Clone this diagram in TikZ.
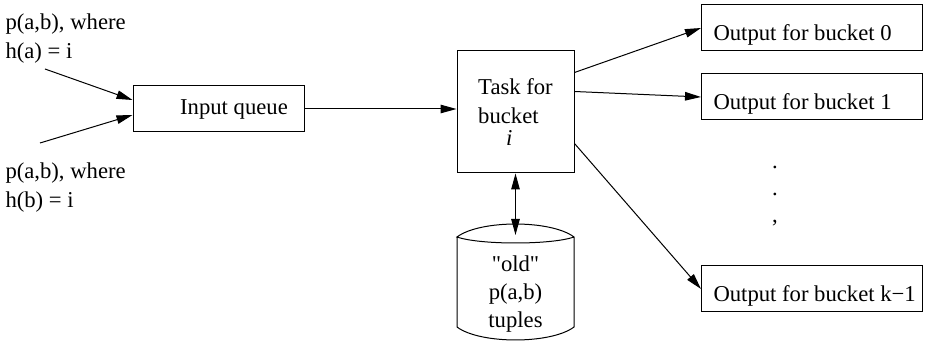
\documentclass[tikz,border=0pt]{standalone}
\usepackage{fontspec}
\setmainfont{Liberation Serif}
\newfontfamily\figserif{Liberation Serif}
\usetikzlibrary{arrows.meta,calc}
\begin{document}
\begin{tikzpicture}[x=0.75pt,y=-0.75pt,
  font=\figserif\fontsize{17}{21.75}\selectfont,
  line width=0.75pt,
  box/.style={draw,rectangle,inner sep=0pt},
  arr/.style={-{Triangle[length=12pt,width=6.4pt]}},
  darr/.style={{Triangle[length=12pt,width=6.4pt]}-{Triangle[length=12pt,width=6.4pt]}},
  lab/.style={align=left,inner sep=0pt,anchor=north west},
  outbox/.style={box,anchor=west,minimum width=165.75pt,minimum height=34.5pt,inner xsep=9pt,text height=19.5pt,text depth=0pt}]
\useasboundingbox (0,0) rectangle (926,342);
% labels
\node[lab] (la) at (5,13) {p(a,b), where\\h(a) = i};
\node[lab] (lb) at (5,162) {p(a,b), where\\h(b) = i};
\coordinate (a1) at (45,69);
\coordinate (a2) at (40,143);
% input queue
\node[box,minimum width=128.25pt,minimum height=34.5pt,text height=12pt,text depth=3pt] (iq) at (218.5,109) {\hspace*{23.25pt}Input queue};
% task
\node[box,minimum width=87.75pt,minimum height=91.5pt,align=left] (task) at (515.5,112) {Task for\\bucket\\[-5.25pt]\hspace*{21pt}\textit{i}};
% cylinder
\draw (457,237) -- (457,327) .. controls (480,344.3) and (551,344.3) .. (574,327) -- (574,237)
      .. controls (551,219.7) and (480,219.7) .. (457,237)
      .. controls (480,245) and (551,245) .. (574,237);
\node[align=center,inner sep=0pt,anchor=north,font=\figserif\fontsize{17}{21}\selectfont] (db) at (515.5,255) {"old"\\p(a,b)\\tuples};
\coordinate (dbtop) at (515.5,235);
% outputs
\node[outbox] (o0) at (701,28) {\makebox[147.75pt][l]{Output for bucket 0}};
\node[outbox] (o1) at (701,97) {\makebox[147.75pt][l]{Output for bucket 1}};
\node[outbox] (ok) at (701,289) {\makebox[147.75pt][l]{Output for bucket k−1}};
\node[align=center,inner sep=0pt,anchor=north,font=\figserif\fontsize{17}{20.25}\selectfont] (dots) at (775,165.5) {.\\.\\,};
% connectors
\draw[arr] (a1) -- ($(iq.west)+(0,-9)$);
\draw[arr] (a2) -- ($(iq.west)+(0,6)$);
\draw[arr] (iq.east) -- (iq.east -| task.west);
\draw[arr] ($(task.north east)+(0,22)$) -- (o0.west);
\draw[arr] ($(task.north east)+(0,41)$) -- (o1.west);
\draw[arr] ($(task.north east)+(0,93)$) -- (ok.west);
\draw[darr] (task.south) -- (task.south |- dbtop);
\end{tikzpicture}
\end{document}
